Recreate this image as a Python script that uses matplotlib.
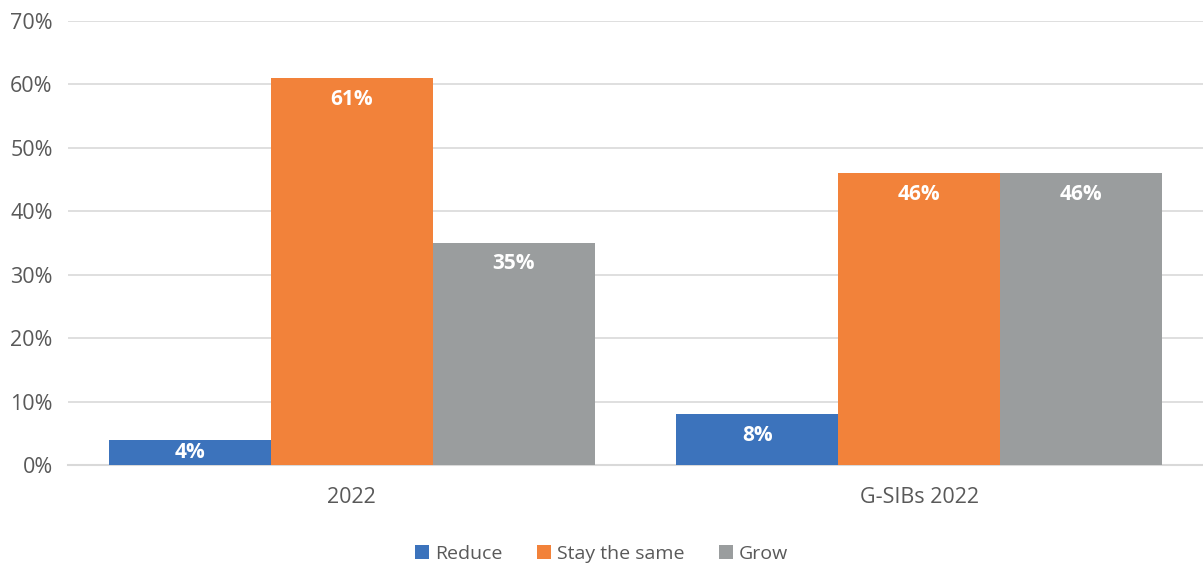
import numpy as np
import matplotlib.pyplot as plt

plt.rcParams['font.family'] = ['Open Sans', 'DejaVu Sans']

groups = ['2022', 'G-SIBs 2022']
series = ['Reduce', 'Stay the same', 'Grow']
reduce_vals = [4, 8]
same_vals = [61, 46]
grow_vals = [35, 46]
colors = ['#3C73BC', '#F2823A', '#9A9D9E']
yticks = [0, 10, 20, 30, 40, 50, 60, 70]

fig = plt.figure(figsize=(12.03, 5.65), dpi=100)
ax = fig.add_axes([68 / 1203, 1 - 465 / 565, 1 - 68 / 1203, (465 - 21) / 565])

centers = np.array([0, 3.5])
width = 1.0
for i, (name, vals) in enumerate(zip(series, [reduce_vals, same_vals, grow_vals])):
    xs = centers + (i - 1) * width
    ax.bar(xs, vals, width=width, color=colors[i], label=name, zorder=3)
    for x, v in zip(xs, vals):
        y = max(v - 3.3, v / 2)
        ax.text(x, y, f'{v}%', ha='center', va='center', color='white',
                fontsize=15, fontweight='bold', zorder=4)

ax.set_xlim(-1.75, 5.25)
ax.set_ylim(0, 70)
ax.set_yticks(yticks)
ax.set_yticklabels([f'{t}%' for t in yticks])
ax.set_xticks(centers)
ax.set_xticklabels(groups)
ax.tick_params(axis='both', length=0, labelsize=15.5, colors='#595959')
ax.tick_params(axis='x', pad=16)
ax.tick_params(axis='y', pad=11)
ax.grid(axis='y', color='#D9D9D9', linewidth=1.2, zorder=0)
for s in ['top', 'right', 'left']:
    ax.spines[s].set_visible(False)
ax.spines['bottom'].set_color('#D9D9D9')
ax.spines['bottom'].set_linewidth(1.5)

leg = ax.legend(loc='center', bbox_to_anchor=(0.5 - 34 / 1135, -89 / 444), ncol=3,
                frameon=False, fontsize=14, handlelength=0.7, handleheight=0.7,
                handletextpad=0.3, columnspacing=1.8, labelcolor='#595959')

fig.savefig('out.png', dpi=100)
